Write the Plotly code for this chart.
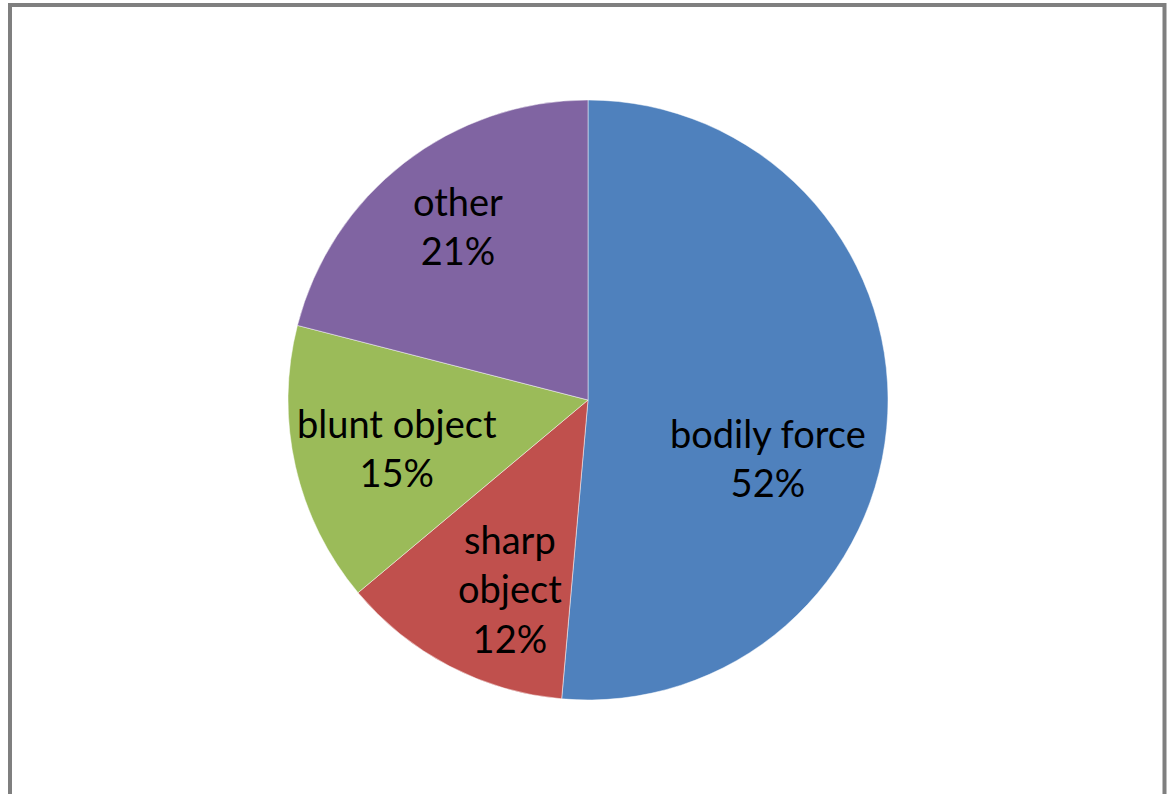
import plotly.graph_objects as go

categories = ["bodily force", "sharp object", "blunt object", "other"]
values = [51.4, 12.5, 15.1, 21.0]
pct_labels = ["52%", "12%", "15%", "21%"]
display_labels = ["bodily force", "sharp<br>object", "blunt object", "other"]
colors = ["#4F81BD", "#C0504D", "#9BBB59", "#8064A2"]

W, H = 1171, 794
cx, cy, r = 588, 400, 300

fig = go.Figure(go.Pie(
    labels=categories,
    values=values,
    sort=False,
    direction="clockwise",
    rotation=0,
    marker=dict(colors=colors, line=dict(color="rgba(255,255,255,0.6)", width=0.8)),
    textinfo="none",
    hoverinfo="label+percent",
    showlegend=False,
    domain=dict(x=[(cx - r) / W, (cx + r) / W], y=[(H - cy - r) / H, (H - cy + r) / H]),
))

# label positions (pixel, top-left origin) for each slice's text
label_pos = [(768, 458), (510, 588), (397, 447), (458, 225)]
for lab, pct, (px, py) in zip(display_labels, pct_labels, label_pos):
    fig.add_annotation(
        x=px / W, y=1 - py / H, xref="paper", yref="paper",
        text=f"{lab}<br>{pct}", showarrow=False,
        font=dict(family="Lato, Carlito, sans-serif", size=38, color="#000000"),
        align="center", xanchor="center", yanchor="middle",
    )

fig.add_shape(type="rect", xref="paper", yref="paper",
              x0=10 / W, x1=1164.5 / W, y0=-0.05, y1=1 - 5 / H,
              line=dict(color="#7F7F7F", width=4), fillcolor="rgba(0,0,0,0)")

fig.update_layout(
    width=W, height=H,
    margin=dict(l=0, r=0, t=0, b=0),
    paper_bgcolor="white", plot_bgcolor="white",
)

fig.write_html("out.html")
